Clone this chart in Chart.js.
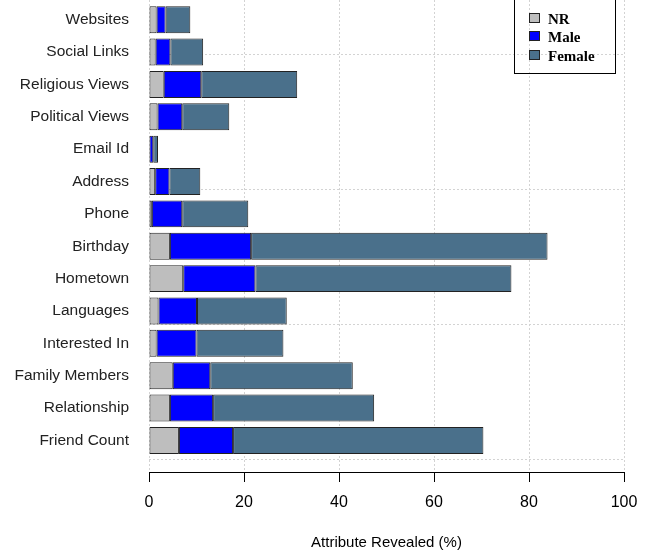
<!DOCTYPE html>
<html>
<head>
<meta charset="utf-8">
<script src="https://cdn.jsdelivr.net/npm/chart.js@4"></script>
<style>
  body { margin: 0; background: #fff; }
  canvas { display: block; }
</style>
</head>
<body>
<canvas id="attrChart" width="662" height="555"></canvas>
<script>
// Categories, top to bottom as in the figure
const categories = ['Websites', 'Social Links', 'Religious Views', 'Political Views', 'Email Id',
    'Address', 'Phone', 'Birthday', 'Hometown', 'Languages', 'Interested In',
    'Family Members', 'Relationship', 'Friend Count'];

// Attribute revealed (%) per group, same order as categories
const nrData     = [1.6, 1.4, 3.1, 1.8, 0.1, 1.3, 0.6, 4.4, 7.2, 2.0, 1.6, 5.0, 4.4, 6.3];
const maleData   = [1.9, 3.1, 7.9, 5.2, 0.8, 3.0, 6.4, 17.1, 15.2, 8.1, 8.4, 7.9, 9.1, 11.4];
const femaleData = [5.2, 6.9, 20.2, 9.9, 1.0, 6.5, 13.9, 62.4, 53.9, 18.9, 18.3, 30.0, 33.9, 52.7];

const xTicks = [0, 20, 40, 60, 80, 100];
const yGridLines = [0, 5, 10, 15];

// barplot layout: width 1, space 0.2 -> centres at 0.7, 1.9, ... (bottom bar first)
const n = categories.length;
const slot = (i) => 0.7 + 1.2 * (n - 1 - i);
const positions = categories.map((c, i) => slot(i));
const toPoints = (arr) => arr.map((v, i) => ({ x: v, y: positions[i] }));

const sansFamily = '"Liberation Sans", Arial, sans-serif';

// Legend drawn as a box in the top right corner (R style)
const boxLegend = {
    id: 'boxLegend',
    afterDatasetsDraw(chart) {
        const ctx = chart.ctx;
        ctx.save();
        ctx.lineWidth = 1;
        ctx.strokeStyle = '#000';
        ctx.strokeRect(514.5, -5.5, 101, 79);
        ctx.font = 'bold 15px "Liberation Serif", "Times New Roman", serif';
        ctx.textBaseline = 'middle';
        chart.data.datasets.forEach((ds, i) => {
            const y = 17.5 + i * 18.5;
            ctx.fillStyle = ds.backgroundColor;
            ctx.fillRect(529.5, Math.round(y - 5) + 0.5, 10, 9);
            ctx.strokeStyle = '#222';
            ctx.strokeRect(529.5, Math.round(y - 5) + 0.5, 10, 9);
            ctx.fillStyle = '#000';
            ctx.fillText(ds.label, 548, y + 2.5);
        });
        ctx.restore();
    }
};

const barStyle = {
    borderColor: '#222',
    borderWidth: 1,
    borderSkipped: false,
    barPercentage: 1 / 1.2,
    categoryPercentage: 1
};

new Chart(document.getElementById('attrChart').getContext('2d'), {
    type: 'bar',
    data: {
        datasets: [
            { label: 'NR', data: toPoints(nrData), backgroundColor: '#bebebe', ...barStyle },
            { label: 'Male', data: toPoints(maleData), backgroundColor: '#0000ff', ...barStyle },
            { label: 'Female', data: toPoints(femaleData), backgroundColor: '#4a708b', ...barStyle }
        ]
    },
    options: {
        indexAxis: 'y',
        responsive: false,
        animation: false,
        layout: { padding: { left: 0, right: 38, top: 0, bottom: 0 } },
        scales: {
            x: {
                type: 'linear',
                stacked: true,
                min: 0,
                max: 100,
                z: 1,
                afterBuildTicks: (axis) => { axis.ticks = xTicks.map(v => ({ value: v })); },
                afterFit: (axis) => { axis.height = 83; },
                grid: {
                    color: '#d3d3d3',
                    lineWidth: 1,
                    drawTicks: true,
                    tickLength: 10,
                    tickColor: '#000',
                    tickWidth: 1,
                    tickBorderDash: []
                },
                border: { display: true, color: '#000', width: 1, dash: [2, 2] },
                ticks: { color: '#000', font: { family: sansFamily, size: 16 }, padding: 11, maxRotation: 0 },
                title: {
                    display: true,
                    text: 'Attribute Revealed (%)',
                    color: '#000',
                    font: { family: sansFamily, size: 15 },
                    padding: { top: 0, bottom: 3 }
                }
            },
            y: {
                type: 'linear',
                stacked: true,
                position: 'left',
                offset: false,
                min: -0.47,
                max: 17.03,
                afterBuildTicks: (axis) => { axis.ticks = positions.map(v => ({ value: v })); },
                afterFit: (axis) => {
                    axis.width = 149;
                    axis.paddingTop = 0;
                    axis.paddingBottom = 0;
                },
                grid: { display: false, drawTicks: false, offset: false },
                border: { display: false },
                ticks: {
                    autoSkip: false,
                    color: '#222',
                    font: { family: sansFamily, size: 15.5 },
                    padding: 20,
                    callback: (value) => categories[n - 1 - Math.round((value - 0.7) / 1.2)]
                }
            },
            yGrid: {
                type: 'linear',
                position: 'right',
                offset: false,
                min: -0.47,
                max: 17.03,
                z: 1,
                afterBuildTicks: (axis) => { axis.ticks = yGridLines.map(v => ({ value: v })); },
                afterFit: (axis) => {
                    axis.width = 0;
                    axis.paddingTop = 0;
                    axis.paddingBottom = 0;
                },
                grid: { color: '#d3d3d3', lineWidth: 1, drawTicks: false, offset: false },
                border: { display: false, dash: [2, 2] },
                ticks: { display: false }
            }
        },
        plugins: {
            legend: { display: false },
            tooltip: { enabled: false },
            title: { display: false }
        }
    },
    plugins: [boxLegend]
});
</script>
</body>
</html>
